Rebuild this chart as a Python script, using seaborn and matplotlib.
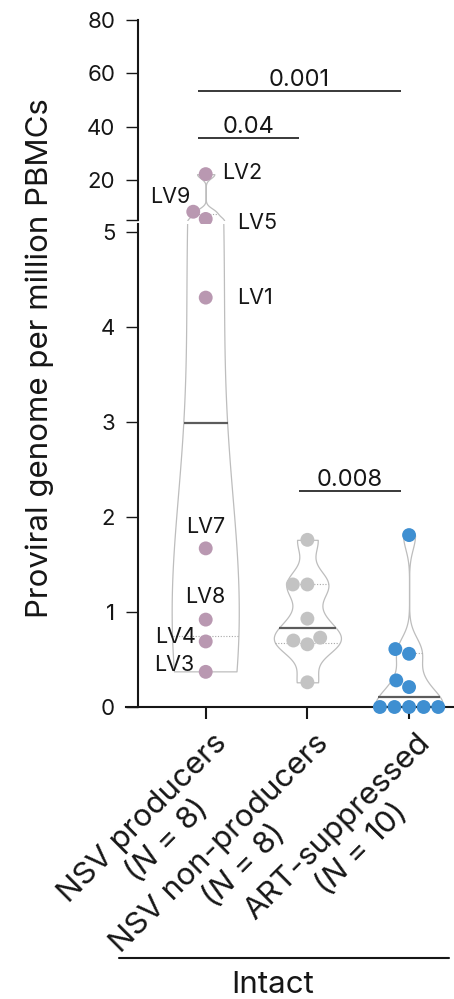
import numpy as np
import pandas as pd
import matplotlib
matplotlib.use("Agg")
import matplotlib.pyplot as plt
from matplotlib.lines import Line2D
from matplotlib.transforms import ScaledTranslation
import seaborn as sns

# ---- data -------------------------------------------------------------
groups = ["NSV producers", "NSV non-producers", "ART-suppressed"]
group_sizes = [8, 8, 10]
producer_ids = ["LV3", "LV4", "LV8", "LV7", "LV1", "LV5", "LV9", "LV2"]
producer_values = [0.37, 0.69, 0.92, 1.67, 4.31, 5.4, 8.1, 22.2]
non_producer_values = [0.26, 0.66, 0.70, 0.73, 0.93, 1.29, 1.29, 1.76]
art_values = [0.0, 0.0, 0.0, 0.0, 0.0, 0.21, 0.28, 0.56, 0.61, 1.81]
comparisons = [("NSV producers", "NSV non-producers", "0.04"),
               ("NSV producers", "ART-suppressed", "0.001"),
               ("NSV non-producers", "ART-suppressed", "0.008")]
lower_ticks = [0, 1, 2, 3, 4, 5]
upper_ticks = [20, 40, 60, 80]

# ---- style / layout ---------------------------------------------------
W, H, DPI = 454, 999, 100
INK = "#161616"
colors = {"NSV producers": "#b998b1",
          "NSV non-producers": "#c3c3c3",
          "ART-suppressed": "#3f8fd1"}
kde_bandwidth = {"NSV producers": 1.5, "NSV non-producers": 0.15, "ART-suppressed": 0.15}
bracket_y = {"0.04": 35.7, "0.001": 53.5, "0.008": 2.27}
label_offsets = {"LV2": (16, 1, "left"), "LV9": (-15, 15, "right"),
                 "LV5": (31, -4, "left"), "LV1": (31, 0, "left"),
                 "LV7": (0, 21, "center"), "LV8": (0, 23, "center"),
                 "LV4": (-10, 4, "right"), "LV3": (-11, 7, "right")}
TICK_FS = 16
NOTE_FS = 15.5
P_FS = 17
BIG_FS = 22.5

sns.set_theme(style="ticks")
plt.rcParams["font.family"] = ["Inter", "DejaVu Sans"]
plt.rcParams["mathtext.fontset"] = "custom"
plt.rcParams["mathtext.rm"] = "Inter"
plt.rcParams["mathtext.it"] = "Inter:italic"
plt.rcParams["text.color"] = INK
plt.rcParams["axes.edgecolor"] = INK
plt.rcParams["xtick.color"] = INK
plt.rcParams["ytick.color"] = INK

df = pd.DataFrame({
    "group": [groups[0]] * len(producer_values) + [groups[1]] * len(non_producer_values)
             + [groups[2]] * len(art_values),
    "value": producer_values + non_producer_values + art_values,
})

fig = plt.figure(figsize=(W / DPI, H / DPI), dpi=DPI)


def px_axes(left, top, right, bottom):
    return fig.add_axes([left / W, 1 - bottom / H, (right - left) / W, (bottom - top) / H])


ax_top = px_axes(126, 20, 454, 220)
ax_bot = px_axes(126, 224, 454, 707)
ax_top.set_ylim(5, 80)
ax_bot.set_ylim(0, 5.085)
XLIM = (-0.784, 2.442)


def span_at(poly, y):
    v = poly.get_paths()[0].vertices
    xs = []
    for (x0, y0), (x1, y1) in zip(v[:-1], v[1:]):
        if y0 != y1 and (y0 - y) * (y1 - y) <= 0:
            xs.append(x0 + (y - y0) * (x1 - x0) / (y1 - y0))
    return min(xs), max(xs)


for ax in (ax_top, ax_bot):
    lo, hi = ax.get_ylim()
    for g in groups:
        sub = df[df["group"] == g]
        if sub["value"].max() < lo:
            continue
        sns.violinplot(data=sub, x="group", y="value", order=groups, ax=ax,
                       cut=0, inner=None, density_norm="width", width=0.66,
                       bw_method=kde_bandwidth[g] / sub["value"].std(),
                       gridsize=600, color="white", saturation=1,
                       linecolor="#bdbdbd", linewidth=0.9)
        poly = ax.collections[-1]
        q1, med, q3 = np.percentile(sub["value"], [25, 50, 75], method="weibull")
        for yv, is_median in ((q1, False), (med, True), (q3, False)):
            if not (lo <= yv <= hi) or yv == 0:
                continue
            xl, xr = span_at(poly, yv)
            if is_median:
                ax.plot([xl, xr], [yv, yv], color="#5c5c5c", lw=1.6, zorder=3,
                        solid_capstyle="butt")
            else:
                ax.plot([xl, xr], [yv, yv], color="#a8a8a8", lw=0.8, ls=(0, (1, 1.5)),
                        zorder=3)

    if ax is ax_top:
        pts = df[df["value"] >= lo]
    else:
        pts = df[df["value"] < ax_top.get_ylim()[0]]
    sns.swarmplot(data=pts, x="group", y="value", hue="group", order=groups,
                  hue_order=groups, palette=colors, size=10, linewidth=0,
                  ax=ax, legend=False, clip_on=False, zorder=4)

# ---- point labels for the NSV producers ----------------------------------
for pid, val in zip(producer_ids, producer_values):
    ax = ax_top if val >= ax_top.get_ylim()[0] else ax_bot
    dx, dy, ha = label_offsets[pid]
    ax.annotate(pid, xy=(0, val), xytext=(dx, dy), textcoords="offset pixels",
                ha=ha, va="center", fontsize=NOTE_FS, color=INK, annotation_clip=False)

# ---- significance brackets --------------------------------------------
for a, b, p in comparisons:
    y = bracket_y[p]
    ax = ax_top if y >= ax_top.get_ylim()[0] else ax_bot
    i, j = groups.index(a) - 0.08, groups.index(b) - 0.08
    ax.plot([i, j], [y, y], color=INK, lw=1.2, solid_capstyle="butt", clip_on=False)
    ax.annotate(p, xy=((i + j) / 2, y), xytext=(0, 5), textcoords="offset pixels",
                ha="center", va="baseline", fontsize=P_FS, color=INK,
                annotation_clip=False)

# ---- axes cosmetics ----------------------------------------------------
spine_pos = ("axes", 12 / 328)
for ax in (ax_top, ax_bot):
    ax.set_xlim(*XLIM)
    ax.set_xlabel("")
    ax.set_ylabel("")
    ax.spines["top"].set_visible(False)
    ax.spines["right"].set_visible(False)
    ax.spines["left"].set_position(spine_pos)
    ax.spines["left"].set_linewidth(1.5)
    ax.spines["bottom"].set_linewidth(1.5)
    ax.tick_params(axis="y", length=8.4, width=1.0, pad=8, labelsize=TICK_FS)
    ax.set_facecolor("none")

ax_top.spines["bottom"].set_visible(False)
ax_top.tick_params(axis="x", bottom=False, labelbottom=False)
ax_top.set_yticks([5] + upper_ticks)
ax_top.set_yticklabels([""] + [str(t) for t in upper_ticks])

ax_bot.set_yticks(lower_ticks)
ax_bot.set_yticklabels([str(t) for t in lower_ticks])
ax_bot.set_xticks(range(len(groups)))
ax_bot.set_xticklabels([])
ax_bot.tick_params(axis="x", length=8.4, width=1.5)

label_shift = ScaledTranslation(7 / DPI, -22 / DPI, fig.dpi_scale_trans)
for i, (g, n) in enumerate(zip(groups, group_sizes)):
    ax_bot.text(i, 0, f"{g}\n($N$ = {n})",
                transform=ax_bot.get_xaxis_transform() + label_shift,
                rotation=45, rotation_mode="anchor", ha="right", va="top",
                multialignment="center", fontsize=BIG_FS, color=INK,
                linespacing=1.05)

fig.add_artist(Line2D([119 / W, 449 / W], [1 - 958 / H] * 2, color=INK, lw=1.5))
fig.text(273 / W, 1 - 985 / H, "Intact", ha="center", va="center", fontsize=BIG_FS)
fig.text(40 / W, 1 - 358 / H, "Proviral genome per million PBMCs", rotation=90,
         ha="center", va="center", fontsize=BIG_FS)

fig.savefig("out.png", dpi=DPI)
